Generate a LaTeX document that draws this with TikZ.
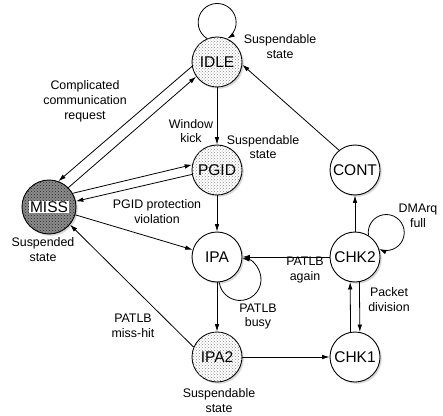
\documentclass[tikz,border=0pt]{standalone}
\usepackage{fontspec}
\setmainfont{Liberation Sans}
\usetikzlibrary{arrows.meta,patterns,shadows}

\begin{document}
\begin{tikzpicture}[x=1pt,y=1pt,
  >={Latex[length=7.5pt,width=4.6pt]},
  state/.style={circle, draw, line width=0.9pt, minimum size=50pt, inner sep=0pt,
    font=\fontsize{15.5}{17}\selectfont, fill=white,
    drop shadow={shadow xshift=1.8pt, shadow yshift=-1.8pt, fill=black!30}},
  lightstate/.style={state,
    postaction={pattern=crosshatch dots, pattern color=black!45}},
  darkstate/.style={state, minimum size=54pt, fill=black!45,
    postaction={pattern=crosshatch dots, pattern color=black!85}},
  trans/.style={->, line width=0.8pt},
  lbl/.style={font=\fontsize{12.4}{14.8}\selectfont, align=center, inner sep=0pt}
]
\useasboundingbox (0,0) rectangle (443,415);

% states
\node[lightstate] (IDLE) at (217,353) {IDLE};
\node[lightstate] (PGID) at (217,245) {PGID};
\node[state]      (CONT) at (355,245) {CONT};
\node[darkstate, label={[fill=white, inner sep=1pt, font=\fontsize{15.5}{17}\selectfont]center:MISS}] (MISS) at (49,208) {};
\node[state]      (IPA)  at (217,158) {IPA};
\node[state]      (CHK2) at (355,158) {CHK2};
\node[lightstate] (IPA2) at (217,58)  {IPA2};
\node[state]      (CHK1) at (355,58)  {CHK1};

% transitions
\draw[trans] (IDLE) -- (PGID);
\draw[trans] (PGID) -- (IPA);
\draw[trans] (IPA) -- (IPA2);
\draw[trans] (IPA2) -- (CHK1);
\draw[trans] (CHK1.100.4) -- (CHK2.259.6);
\draw[trans] (CHK2.280.4) -- (CHK1.79.6);
\draw[trans] (CHK2) -- (CONT);
\draw[trans] (CHK2) -- (IPA);
\draw[trans] (CONT.129) -- (IDLE.-6);
\draw[trans] (IDLE.190) -- (MISS.70);
\draw[trans] (MISS.45) -- (IDLE.215);
\draw[trans] (MISS.30) -- (PGID.168);
\draw[trans] (PGID.190) -- (MISS.12);
\draw[trans] (MISS) -- (IPA);
\draw[trans] (IPA2.157) -- (MISS.320);

% self loops
\draw[trans] (IDLE.113.8) arc[start angle=237.9, end angle=-57.9, radius=19];
\draw[trans] (IPA.-85) arc[start angle=187.9, end angle=444.5, radius=21];
\draw[trans] (CHK2.58) arc[start angle=189.3, end angle=-113.6, radius=18];

% annotations
\node[lbl] (tIDLE) at (280,368.5) {Suspendable\\state};
\node[lbl] (tPGID) at (263,268) {Suspendable\\state};
\node[lbl] (tkick) at (191,284) {Window\\kick};
\node[lbl] (tcomm) at (85,314) {Complicated\\communication\\request};
\node[lbl] (tprot) at (157,203.5) {PGID protection\\violation};
\node[lbl] (tMISS) at (43,165.5) {Suspended\\state};
\node[lbl] (tmiss) at (133,89.5) {PATLB\\miss-hit};
\node[lbl] (tIPA2) at (219,14.5) {Suspendable\\state};
\node[lbl] (tagain) at (305,145) {PATLB\\again};
\node[lbl] (tbusy) at (258,98.5) {PATLB\\busy};
\node[lbl] (tdma) at (418,199.5) {DMArq\\full};
\node[lbl] (tpkt) at (389,115.5) {Packet\\division};
\end{tikzpicture}
\end{document}
